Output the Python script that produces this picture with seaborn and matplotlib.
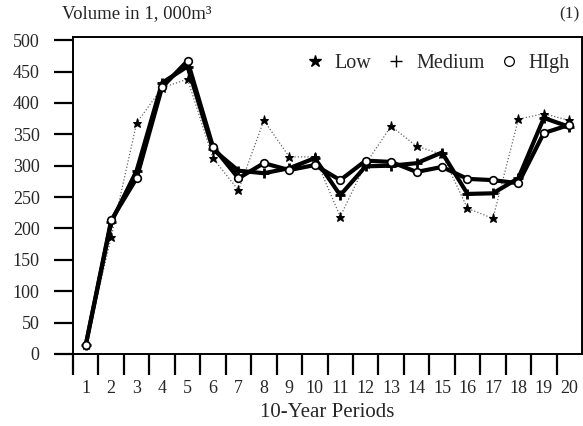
import numpy as np
import pandas as pd
import matplotlib
matplotlib.use("Agg")
import matplotlib.pyplot as plt
from matplotlib.lines import Line2D
import seaborn as sns

periods = list(range(1, 21))
low = [14, 186, 368, 424, 438, 312, 261, 372, 314, 314, 219, 303, 363, 331, 318, 232, 216, 374, 383, 372]
medium = [14, 210, 292, 432, 458, 326, 292, 288, 296, 312, 253, 299, 300, 304, 321, 255, 256, 280, 376, 362]
high = [14, 213, 280, 425, 467, 330, 280, 304, 293, 301, 277, 308, 306, 290, 298, 279, 277, 272, 352, 365]
y_ticks = list(range(0, 501, 50))

sns.set_style("ticks")
plt.rcParams['font.family'] = ['Liberation Serif', 'DejaVu Serif']

fig = plt.figure(figsize=(5.83, 4.26), dpi=100)
ax = fig.add_axes([73/583, 1-354/426, 509/583, (354-37)/426])

df = pd.DataFrame({"period": periods, "Low": low, "Medium": medium, "High": high})

sns.lineplot(data=df, x="period", y="Low", ax=ax, color="#666666", lw=0.9,
             linestyle=(0, (1, 1.6)), marker="*", markersize=6.5,
             markerfacecolor="black", markeredgecolor="black")
sns.lineplot(data=df, x="period", y="Medium", ax=ax, color="black", lw=3.0,
             marker="+", markersize=7, markeredgewidth=2.0,
             markerfacecolor="black", markeredgecolor="black")
sns.lineplot(data=df, x="period", y="High", ax=ax, color="black", lw=3.0,
             marker="o", markersize=5.5, markerfacecolor="white",
             markeredgecolor="black", markeredgewidth=1.2)

ax.set_xlim(0.5, 20.5)
ax.set_ylim(0, 505)
ax.set_xticks(periods)
ax.set_xticklabels([str(p) for p in periods], fontsize=13)
ax.set_xticks([k + 0.5 for k in range(0, 20)], minor=True)
ax.tick_params(axis='x', which='major', length=0, pad=19)
ax.tick_params(axis='x', which='minor', length=15, width=1.6, direction='out', color='black')
ax.set_yticks(y_ticks)
ax.set_yticklabels([str(v) for v in y_ticks], fontsize=13)
ax.tick_params(axis='y', length=14, width=1.6, direction='out', pad=10, color='black')

for s in ax.spines.values():
    s.set_linewidth(1.4)
    s.set_color('black')

ax.set_xlabel("10-Year Periods", fontsize=15, labelpad=4)
ax.set_ylabel("")

fig.text(62/583, 1-14/426, "Volume in 1, 000m³", fontsize=13.5, ha='left', va='center')
fig.text(580/583, 1-14/426, "(1)", fontsize=12.5, ha='right', va='center')

handles = [
    Line2D([], [], linestyle='none', marker='*', markersize=9, color='black'),
    Line2D([], [], linestyle='none', marker='+', markersize=9, color='black', markeredgewidth=1),
    Line2D([], [], linestyle='none', marker='o', markersize=7, markerfacecolor='white',
           markeredgecolor='black', markeredgewidth=0.9),
]
ax.legend(handles, ["Low", "Medium", "HIgh"], loc='upper right', ncol=3, frameon=False,
          fontsize=14.5, handlelength=1.0, handletextpad=0.5, columnspacing=0.7,
          bbox_to_anchor=(1.0, 0.985), borderaxespad=0.2)

fig.savefig("out.png", dpi=100)
